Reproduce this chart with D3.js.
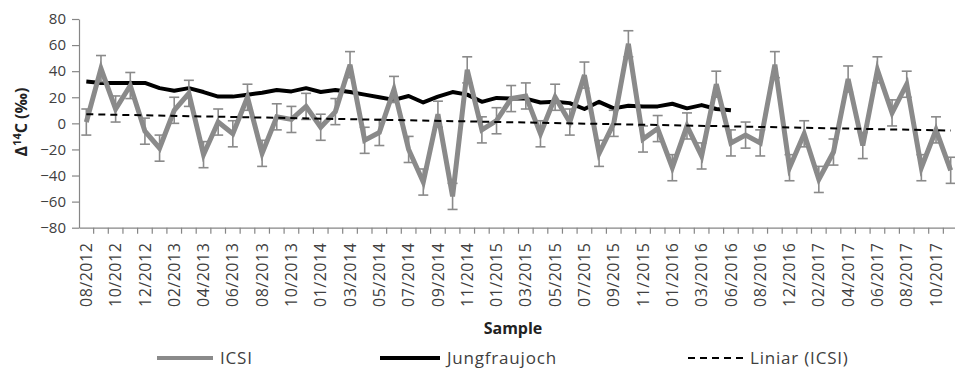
<!DOCTYPE html>
<html>
<head>
<meta charset="utf-8">
<script src="https://cdn.jsdelivr.net/npm/d3@7"></script>
<style>
  body { margin: 0; background: #fff; }
  svg text { font-family: "Open Sans", sans-serif; }
</style>
</head>
<body>
<div id="chart"></div>
<script>
// sample labels (every second sample is labelled)
const tickLabels = [
  '08/2012', '10/2012', '12/2012', '02/2013', '04/2013', '06/2013', '08/2013', '10/2013',
  '01/2014', '03/2014', '05/2014', '07/2014', '09/2014', '11/2014', '01/2015', '03/2015',
  '05/2015', '07/2015', '09/2015', '11/2015', '01/2016', '03/2016', '06/2016', '08/2016',
  '12/2016', '02/2017', '04/2017', '06/2017', '08/2017', '10/2017'
];
// ICSI Δ14C (‰), one value per sample
const icsi = [
  1, 42, 11, 29, -6, -19, 10, 23, -24, 1,
  -8, 20, -23, 5, 3, 13, -3, 9, 45, -13,
  -7, 26, -20, -45, 7, -56, 41, -5, 2, 19,
  21, -8, 20, 1, 37, -23, 0, 61, -12, -4,
  -34, -2, -25, 30, -15, -9, -15, 45, -34, -8,
  -43, -22, 34, -17, 41, 8, 30, -34, -5, -36
];
const icsiErr = [
  10, 10, 10, 10, 10, 10, 10, 10, 10, 10,
  10, 10, 10, 10, 10, 10, 10, 10, 10, 10,
  10, 10, 10, 10, 10, 10, 10, 10, 10, 10,
  10, 10, 10, 10, 10, 10, 10, 10, 10, 10,
  10, 10, 10, 10, 10, 10, 10, 10, 10, 10,
  10, 10, 10, 10, 10, 10, 10, 10, 10, 10
];
// Jungfraujoch reference, samples 0..44
const jungfraujoch = [
  32, 31, 31, 31, 31, 27, 25, 27, 24, 20.5,
  20.5, 22, 23.5, 25.5, 24.5, 27, 24, 25.5, 24, 22,
  20, 18, 21, 16, 20.5, 24, 22, 16.5, 19.5, 19,
  19, 16, 16.5, 15.5, 11, 16.5, 11.5, 13.5, 13, 13,
  15, 11.5, 14, 11, 10
];
// linear trend of ICSI: value at first and last sample
const trendEnds = [7, -5.5];
const yTicks = [-80, -60, -40, -20, 0, 20, 40, 60, 80];

const width = 955, height = 368;
const idx = d3.range(icsi.length);
const x = d3.scaleBand().domain(idx).range([79, 79 + icsi.length * 14.65]);
const cx = i => x(i) + x.bandwidth() / 2;
const y = d3.scaleLinear().domain([-80, 80]).range([227.7, 19]);

const svg = d3.select('#chart').append('svg').attr('width', width).attr('height', height);

const gray = '#8a8a8a';
const axisColor = '#868686';
const labelColor = '#404040';

// y axis
const gy = svg.append('g').attr('transform', 'translate(79,0)')
  .call(d3.axisLeft(y).tickValues(yTicks).tickSize(7).tickSizeOuter(0).tickPadding(6));
gy.select('.domain').attr('stroke', axisColor).attr('stroke-width', 1.2);
gy.selectAll('.tick line').attr('stroke', axisColor).attr('stroke-width', 1.2);
gy.selectAll('.tick text').attr('fill', labelColor).attr('font-size', 15);

// x axis
const gx = svg.append('g').attr('transform', `translate(0,${y(-80)})`)
  .call(d3.axisBottom(x).tickSize(0).tickSizeOuter(0)
    .tickFormat(i => i % 2 === 0 ? tickLabels[i / 2] : ''));
gx.select('.domain').attr('stroke', axisColor).attr('stroke-width', 1.2);
gx.selectAll('.tick text')
  .attr('transform', 'rotate(-90)')
  .attr('text-anchor', 'end')
  .attr('x', -15).attr('y', 0).attr('dy', '0.35em')
  .attr('fill', labelColor).attr('font-size', 16).attr('letter-spacing', 0.5);
// tick marks between samples
gx.selectAll('.sep').data(idx.slice(1).concat([icsi.length])).join('line')
  .attr('class', 'sep')
  .attr('x1', i => i < icsi.length ? x(i) : x.range()[1])
  .attr('x2', i => i < icsi.length ? x(i) : x.range()[1])
  .attr('y1', 0).attr('y2', 6)
  .attr('stroke', axisColor).attr('stroke-width', 1.2);

// Jungfraujoch
svg.append('path').datum(jungfraujoch)
  .attr('d', d3.line().x((d, i) => cx(i)).y(d => y(d)))
  .attr('fill', 'none').attr('stroke', '#000').attr('stroke-width', 4).attr('stroke-linejoin', 'round');

// ICSI
svg.append('path').datum(icsi)
  .attr('d', d3.line().x((d, i) => cx(i)).y(d => y(d)))
  .attr('fill', 'none').attr('stroke', gray).attr('stroke-width', 5).attr('stroke-linejoin', 'miter');

// error bars
const eb = svg.append('g').attr('stroke', gray).attr('stroke-width', 1.6);
idx.forEach(i => {
  const lo = y(icsi[i] - icsiErr[i]), hi = y(icsi[i] + icsiErr[i]);
  eb.append('line').attr('x1', cx(i)).attr('x2', cx(i)).attr('y1', lo).attr('y2', hi);
  eb.append('line').attr('x1', cx(i) - 5).attr('x2', cx(i) + 5).attr('y1', lo).attr('y2', lo);
  eb.append('line').attr('x1', cx(i) - 5).attr('x2', cx(i) + 5).attr('y1', hi).attr('y2', hi);
});

// linear trend
svg.append('line')
  .attr('x1', cx(0)).attr('y1', y(trendEnds[0]))
  .attr('x2', cx(icsi.length - 1)).attr('y2', y(trendEnds[1]))
  .attr('stroke', '#000').attr('stroke-width', 2).attr('stroke-dasharray', '7,5');

// y title
const yt = svg.append('text')
  .attr('transform', 'translate(27,122) rotate(-90)')
  .attr('text-anchor', 'middle')
  .attr('font-size', 16).attr('font-weight', 'bold').attr('fill', '#222');
yt.append('tspan').text('Δ');
yt.append('tspan').text('14').attr('font-size', 11).attr('dy', -6);
yt.append('tspan').text('C (‰)').attr('dy', 6);

// x title
svg.append('text').attr('x', 513).attr('y', 334)
  .attr('text-anchor', 'middle').attr('font-size', 16).attr('font-weight', 'bold').attr('fill', '#222')
  .text('Sample');

// legend
const legend = [
  { name: 'ICSI', x1: 157, x2: 213, color: gray, w: 4, dash: null },
  { name: 'Jungfraujoch', x1: 380, x2: 440, color: '#000', w: 4, dash: null },
  { name: 'Liniar (ICSI)', x1: 688, x2: 743, color: '#000', w: 2, dash: '7,5' }
];
const lg = svg.append('g');
legend.forEach(l => {
  lg.append('line').attr('x1', l.x1).attr('x2', l.x2).attr('y1', 358).attr('y2', 358)
    .attr('stroke', l.color).attr('stroke-width', l.w).attr('stroke-dasharray', l.dash);
  lg.append('text').attr('x', l.x2 + 7).attr('y', 364)
    .attr('font-size', 17).attr('letter-spacing', 0.8).attr('fill', labelColor).text(l.name);
});
</script>
</body>
</html>
